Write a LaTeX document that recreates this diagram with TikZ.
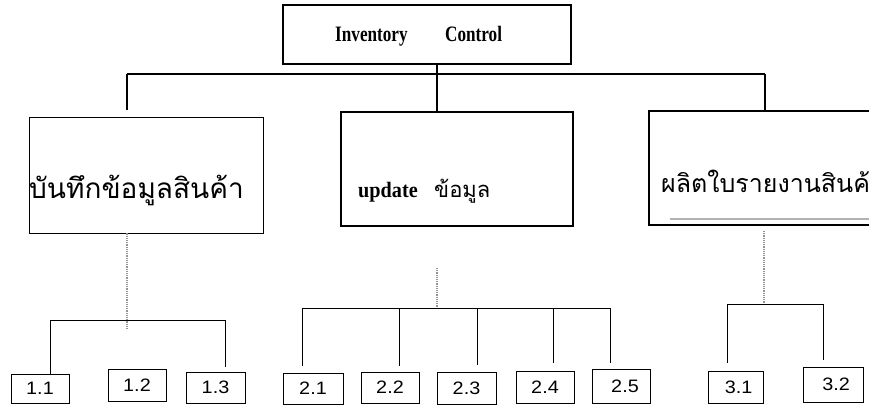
\documentclass[tikz,border=0pt]{standalone}
\usepackage{fontspec}
\setmainfont{Liberation Serif}
\newfontfamily\thaifont[Script=Thai]{Loma}
\newfontfamily\numfont[FakeStretch=1.1]{Liberation Sans}
\newfontfamily\condbold[FakeStretch=0.78]{Liberation Serif Bold}
\newfontfamily\updbold[FakeStretch=0.92]{Liberation Serif Bold}
\begin{document}
\begin{tikzpicture}[x=1pt,y=-1pt,
  bigbox/.style={draw,line width=2pt,inner sep=0pt},
  thinbox/.style={draw,line width=0.9pt,inner sep=0pt},
  leaf/.style={draw,line width=0.8pt,inner sep=0pt,minimum width=58pt,minimum height=31pt,font=\numfont\fontsize{18}{18}\selectfont},
  mainline/.style={line width=2pt},
  subline/.style={line width=0.9pt},
  stem/.style={line width=1.2pt,gray!85,densely dotted},
  thai/.style={font=\thaifont\fontsize{22}{22}\selectfont,inner sep=0pt},
  bold/.style={font=\condbold\fontsize{22}{22}\selectfont,inner sep=0pt}]
\useasboundingbox (0,0) rectangle (869,415);
\clip (0,0) rectangle (869,415);
% top level
\node[bigbox,minimum width=288pt,minimum height=59pt] (b0) at (427,34.5) {};
\node[bold,anchor=base west] (inv) at (335,41) {Inventory};
\node[bold,anchor=base west] (ctl) at (445,41) {Control};
% second level boxes
\node[thinbox,minimum width=234pt,minimum height=116pt] (b1) at (146,175) {};
\node[bigbox,minimum width=232pt,minimum height=114pt] (b2) at (457,169) {};
\node[bigbox,minimum width=252pt,minimum height=114pt] (b3) at (775,168) {};
\node[thai,anchor=base west,font=\thaifont\fontsize{28}{28}\selectfont] (t1) at (29,198) {บันทึกข้อมูลสินค้า};
\node[inner sep=0pt,anchor=base west,font=\updbold\fontsize{22}{22}\selectfont] (t2a) at (358,197) {update};
\node[thai,anchor=base west] (t2b) at (434,197) {ข้อมูล};
\node[thai,anchor=base west,font=\thaifont\fontsize{25}{25}\selectfont] (t3) at (661,192) {ผลิตใบรายงานสินค้า};
\draw[line width=1.5pt,gray!60] (670,219) -- (869,219);
% top connectors
\coordinate (h1) at (127,74);
\coordinate (h2) at (437,74);
\coordinate (h3) at (765,74);
\draw[mainline] (h1) -- (h3);
\draw[mainline,shorten >=7pt] (h1) -- (b1.north -| h1);
\draw[mainline] (b0.south -| h2) -- (b2.north -| h2);
\draw[mainline] (h3) -- (b3.north -| h3);
% leaves
\node[leaf,minimum width=58pt,minimum height=29pt] (l11) at (40,388.5) {1.1};
\node[leaf,minimum height=32pt] (l12) at (137,385) {1.2};
\node[leaf,minimum width=59pt] (l13) at (215.5,387.5) {1.3};
\node[leaf,minimum width=60pt] (l21) at (313,388.5) {2.1};
\node[leaf] (l22) at (390,387.5) {2.2};
\node[leaf,minimum width=59pt,minimum height=32pt] (l23) at (466.5,388) {2.3};
\node[leaf,minimum height=32pt] (l24) at (545,387) {2.4};
\node[leaf,minimum height=34pt] (l25) at (621,386) {\hspace*{8pt}2.5};
\node[leaf,minimum width=55pt,minimum height=32pt] (l31) at (735.5,387) {\hspace*{6pt}3.1};
\node[leaf,minimum width=60pt,minimum height=35pt] (l32) at (833,384.5) {\hspace*{6pt}3.2};
% group 1
\coordinate (g1) at (127,320);
\coordinate (g1a) at (50,320);
\coordinate (g1c) at (225,320);
\draw[stem] (b1.south -| g1) -- ++(0,95);
\draw[subline] (g1a) -- (g1c);
\draw[subline] (g1a) -- (l11.north -| g1a);
\draw[subline,shorten >=5pt] (g1c) -- (l13.north -| g1c);
% group 2
\coordinate (g2) at (437,308);
\coordinate (g2a) at (302,308);
\coordinate (g2b) at (399,308);
\coordinate (g2c) at (477,308);
\coordinate (g2d) at (553,308);
\coordinate (g2e) at (610,308);
\draw[stem,shorten <=41pt] (b2.south -| g2) -- (g2);
\draw[subline] (g2a) -- (g2e);
\draw[subline,shorten >=7pt] (g2a) -- (l21.north -| g2a);
\draw[subline,shorten >=6pt] (g2b) -- (l22.north -| g2b);
\draw[subline,shorten >=7pt] (g2c) -- (l23.north -| g2c);
\draw[subline,shorten >=8pt] (g2d) -- (l24.north -| g2d);
\draw[subline,shorten >=6pt] (g2e) -- (l25.north -| g2e);
% group 3
\coordinate (g3) at (764,304);
\coordinate (g3a) at (727,304);
\coordinate (g3b) at (823,304);
\draw[stem,shorten <=5pt] (b3.south -| g3) -- (g3);
\draw[subline] (g3a) -- (g3b);
\draw[subline,shorten >=8pt] (g3a) -- (l31.north -| g3a);
\draw[subline,shorten >=7pt] (g3b) -- (l32.north -| g3b);
\end{tikzpicture}
\end{document}
